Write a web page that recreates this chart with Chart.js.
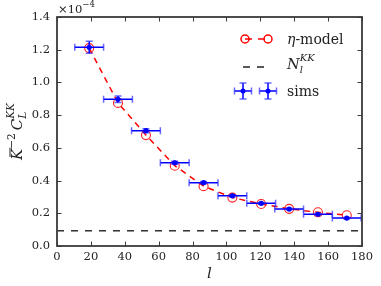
<!DOCTYPE html>
<html>
<head>
<meta charset="utf-8">
<script src="https://cdn.jsdelivr.net/npm/chart.js@4.4.1/dist/chart.umd.min.js"></script>
<style>
  html, body { margin: 0; padding: 0; background: #fff; }
  #wrap { width: 381px; height: 286px; }
</style>
</head>
<body>
<div id="wrap"><canvas id="c" width="381" height="286"></canvas></div>
<script>
// multipole bin centres and half widths
const ell = [19, 36, 52.5, 69.5, 86.5, 103.5, 120.5, 137, 154, 171];
const ellErr = [8.5, 8.5, 8.5, 8.5, 8.5, 8.5, 8.5, 8.5, 8.5, 8.5];
// values in units of 1e-4
const modelCL = [1.21, 0.875, 0.678, 0.491, 0.366, 0.296, 0.257, 0.227, 0.206, 0.188];
const simsCL = [1.215, 0.897, 0.705, 0.509, 0.387, 0.307, 0.261, 0.226, 0.194, 0.171];
const simsErr = [0.036, 0.02, 0.012, 0.009, 0.007, 0.006, 0.005, 0.005, 0.004, 0.004];
const noiseL = [0, 180];
const noiseKK = [0.093, 0.093];
const xTicks = [0, 20, 40, 60, 80, 100, 120, 140, 160, 180];
const yTicks = [0.0, 0.2, 0.4, 0.6, 0.8, 1.0, 1.2, 1.4];

const SERIF = 'DejaVu Serif';
const AXIS = '#3a3a3a';

function drawRich(ctx, parts, x, y) {
  // parts: {t, size, it, dy, stack}; returns width
  let cx = x;
  for (const p of parts) {
    if (p.stack) {
      let w = 0;
      for (const q of p.stack) {
        ctx.font = (q.it ? 'italic ' : '') + q.size + 'px ' + SERIF;
        ctx.fillText(q.t, cx, y + (q.dy || 0));
        w = Math.max(w, ctx.measureText(q.t).width);
      }
      cx += w;
    } else {
      ctx.font = (p.it ? 'italic ' : '') + p.size + 'px ' + SERIF;
      ctx.fillText(p.t, cx, y + (p.dy || 0));
      if (p.bar) {
        const w = ctx.measureText(p.t).width;
        ctx.save();
        ctx.strokeStyle = ctx.fillStyle;
        ctx.lineWidth = 1;
        ctx.beginPath();
        ctx.moveTo(cx + 3, y - p.size * 0.8);
        ctx.lineTo(cx + w + 1, y - p.size * 0.8);
        ctx.stroke();
        ctx.restore();
      }
      cx += ctx.measureText(p.t).width;
    }
  }
  return cx - x;
}

function errMarker(ctx, px, py, x0, x1, y0, y1) {
  ctx.strokeStyle = '#0000ff';
  ctx.lineWidth = 1.5;
  ctx.beginPath();
  ctx.moveTo(x0, py); ctx.lineTo(x1, py);
  ctx.moveTo(px, y0); ctx.lineTo(px, y1);
  ctx.stroke();
  ctx.strokeStyle = 'rgba(40,40,255,0.7)';
  ctx.beginPath();
  ctx.moveTo(x0, py - 3.5); ctx.lineTo(x0, py + 3.5);
  ctx.moveTo(x1, py - 3.5); ctx.lineTo(x1, py + 3.5);
  ctx.moveTo(px - 3.5, y0); ctx.lineTo(px + 3.5, y0);
  ctx.moveTo(px - 3.5, y1); ctx.lineTo(px + 3.5, y1);
  ctx.stroke();
}

const errorBars = {
  id: 'errorBars',
  beforeDatasetDraw(chart, args) {
    if (args.index !== 0) return;
    const { ctx, scales: { x, y } } = chart;
    ctx.save();
    ell.forEach((l, i) => {
      errMarker(ctx,
        x.getPixelForValue(l), y.getPixelForValue(simsCL[i]),
        x.getPixelForValue(l - ellErr[i]), x.getPixelForValue(l + ellErr[i]),
        y.getPixelForValue(simsCL[i] + simsErr[i]), y.getPixelForValue(simsCL[i] - simsErr[i]));
    });
    ctx.restore();
  }
};

const frame = {
  id: 'frame',
  afterDatasetsDraw(chart) {
    const { ctx, chartArea: a, scales: { x, y } } = chart;
    ctx.save();
    ctx.strokeStyle = AXIS;
    ctx.lineWidth = 1;
    ctx.beginPath();
    xTicks.forEach(v => {
      const px = Math.round(x.getPixelForValue(v)) + 0.5;
      ctx.moveTo(px, a.bottom); ctx.lineTo(px, a.bottom - 4.5);
      ctx.moveTo(px, a.top); ctx.lineTo(px, a.top + 4.5);
    });
    yTicks.forEach(v => {
      const py = Math.round(y.getPixelForValue(v)) + 0.5;
      ctx.moveTo(a.left, py); ctx.lineTo(a.left + 4.5, py);
      ctx.moveTo(a.right, py); ctx.lineTo(a.right - 4.5, py);
    });
    ctx.stroke();
    ctx.lineWidth = 1.8;
    ctx.strokeRect(a.left, a.top, a.right - a.left, a.bottom - a.top);
    ctx.restore();
  },
  afterDraw(chart) {
    const { ctx, chartArea: a } = chart;
    ctx.save();
    ctx.fillStyle = '#222';
    ctx.textBaseline = 'alphabetic';
    // offset text
    drawRich(ctx, [{ t: '\u00d710', size: 11.5 }, { t: '\u22124', size: 8.5, dy: -6 }], a.left + 1, 13);
    // x label
    ctx.font = 'italic 15px ' + SERIF;
    ctx.textAlign = 'center';
    ctx.fillText('l', (a.left + a.right) / 2, 278);
    ctx.textAlign = 'left';
    // y label
    const yl = [
      { t: 'K', size: 15, it: true, bar: true },
      { t: '\u22122', size: 10.5, dy: -7 },
      { t: '\u2009', size: 15 },
      { t: 'C', size: 15, it: true },
      { stack: [{ t: 'L', size: 10.5, it: true, dy: 4 }, { t: 'KK', size: 10.5, it: true, dy: -8 }] }
    ];
    ctx.save();
    ctx.translate(22, (a.top + a.bottom) / 2);
    ctx.rotate(-Math.PI / 2);
    ctx.globalAlpha = 0;
    const w = drawRich(ctx, yl, 0, 0);
    ctx.globalAlpha = 1;
    drawRich(ctx, yl, -w / 2, 0);
    ctx.restore();

    // legend
    const tx = 287;
    // eta-model
    ctx.strokeStyle = '#ff0000';
    ctx.lineWidth = 1.5;
    ctx.setLineDash([7, 6]);
    ctx.beginPath(); ctx.moveTo(245, 39); ctx.lineTo(268, 39); ctx.stroke();
    ctx.setLineDash([]);
    [245, 268].forEach(cx => { ctx.beginPath(); ctx.arc(cx, 39, 4, 0, Math.PI * 2); ctx.stroke(); });
    drawRich(ctx, [{ t: '\u03b7', size: 14, it: true }, { t: '-model', size: 14 }], tx, 44);
    // noise
    ctx.strokeStyle = '#222';
    ctx.lineWidth = 1.4;
    ctx.setLineDash([7, 7]);
    ctx.beginPath(); ctx.moveTo(243, 67); ctx.lineTo(267, 67); ctx.stroke();
    ctx.setLineDash([]);
    drawRich(ctx, [{ t: 'N', size: 14.5, it: true },
      { stack: [{ t: 'l', size: 10, it: true, dy: 4 }, { t: 'KK', size: 10, it: true, dy: -8 }] }], tx, 69);
    // sims
    [243, 268].forEach(cx => {
      errMarker(ctx, cx, 91, cx - 8.5, cx + 8.5, 83, 99);
      ctx.fillStyle = '#0000ff';
      ctx.beginPath(); ctx.arc(cx, 91, 2.5, 0, Math.PI * 2); ctx.fill();
    });
    ctx.fillStyle = '#222';
    drawRich(ctx, [{ t: 'sims', size: 14 }], tx, 96);
    ctx.restore();
  }
};

new Chart(document.getElementById('c'), {
  type: 'scatter',
  data: {
    datasets: [
      {
        label: 'sims',
        data: ell.map((l, i) => ({ x: l, y: simsCL[i] })),
        pointRadius: 2.6,
        pointBackgroundColor: '#0000ff',
        pointBorderColor: '#0000ff',
        pointBorderWidth: 0,
        showLine: false
      },
      {
        label: 'eta-model',
        data: ell.map((l, i) => ({ x: l, y: modelCL[i] })),
        showLine: true,
        borderColor: '#ff0000',
        borderWidth: 1.5,
        borderDash: [6, 5],
        pointRadius: 4.5,
        pointBorderColor: '#ff2020',
        pointBorderWidth: 1.1,
        pointBackgroundColor: 'rgba(0,0,0,0)'
      },
      {
        label: 'noise',
        data: noiseL.map((l, i) => ({ x: l, y: noiseKK[i] })),
        showLine: true,
        borderColor: '#222',
        borderWidth: 1.4,
        borderDash: [7, 7],
        pointRadius: 0
      }
    ]
  },
  options: {
    responsive: false,
    animation: false,
    layout: { padding: { top: 17, right: 19, left: 0, bottom: 0 } },
    plugins: { legend: { display: false }, tooltip: { enabled: false } },
    scales: {
      x: {
        type: 'linear', min: 0, max: 180,
        afterFit: s => { s.height = 40; },
        afterBuildTicks: s => { s.ticks = xTicks.map(v => ({ value: v })); },
        ticks: { font: { family: SERIF, size: 11.5 }, color: '#222', padding: 4, maxRotation: 0 },
        grid: { display: false, drawTicks: false, tickLength: 0 },
        border: { display: false }
      },
      y: {
        min: 0, max: 1.4,
        afterFit: s => { s.width = 57; },
        afterBuildTicks: s => { s.ticks = yTicks.map(v => ({ value: v })); },
        ticks: { font: { family: SERIF, size: 11.5 }, color: '#222', padding: 7, callback: v => v.toFixed(1) },
        grid: { display: false, drawTicks: false, tickLength: 0 },
        border: { display: false }
      }
    }
  },
  plugins: [errorBars, frame]
});
</script>
</body>
</html>
